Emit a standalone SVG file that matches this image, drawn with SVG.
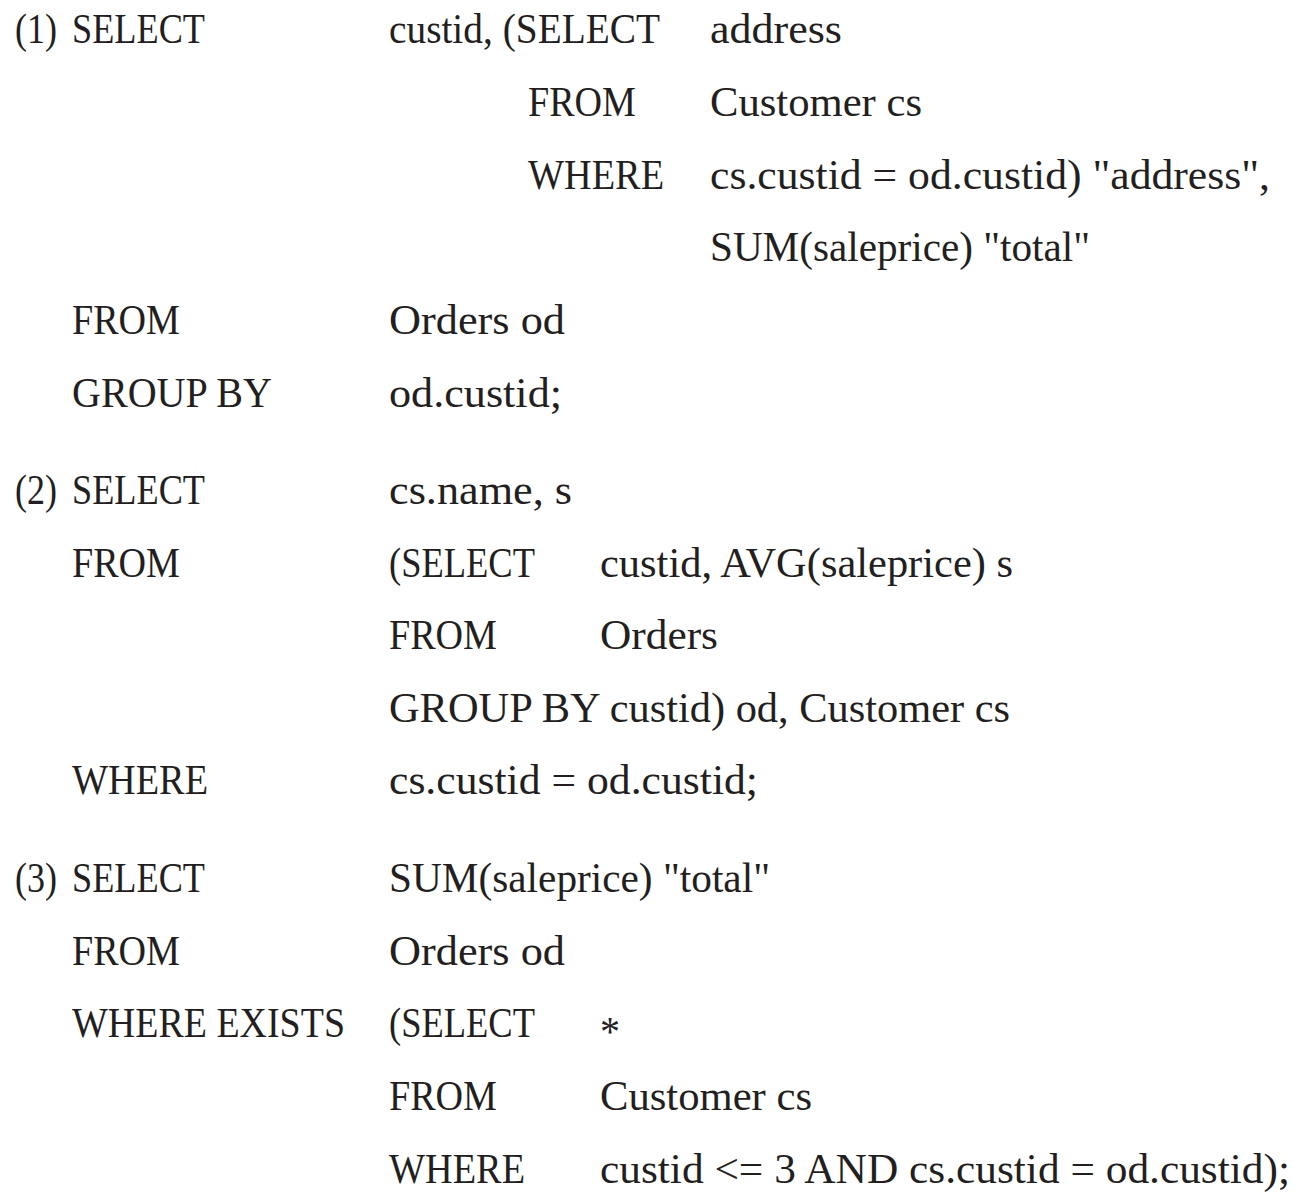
<svg xmlns="http://www.w3.org/2000/svg" width="1304" height="1199" viewBox="0 0 1304 1199">
<style>
text { font-family: "Liberation Serif", "Times New Roman", serif; font-size: 42px; fill: #231f20; }
</style>
<rect width="1304" height="1199" fill="#ffffff"/>
<g id="query1">
<text x="15" y="43" textLength="42" lengthAdjust="spacingAndGlyphs">(1)</text>
<text x="72" y="43" textLength="133" lengthAdjust="spacingAndGlyphs">SELECT</text>
<text x="389" y="43" textLength="271" lengthAdjust="spacingAndGlyphs">custid, (SELECT</text>
<text x="710" y="43" textLength="132" lengthAdjust="spacingAndGlyphs">address</text>
<text x="528" y="116" textLength="108" lengthAdjust="spacingAndGlyphs">FROM</text>
<text x="710" y="116" textLength="212" lengthAdjust="spacingAndGlyphs">Customer cs</text>
<text x="528" y="189" textLength="136" lengthAdjust="spacingAndGlyphs">WHERE</text>
<text x="710" y="189" textLength="560" lengthAdjust="spacingAndGlyphs">cs.custid = od.custid) "address",</text>
<text x="710" y="261" textLength="380" lengthAdjust="spacingAndGlyphs">SUM(saleprice) "total"</text>
<text x="72" y="334" textLength="108" lengthAdjust="spacingAndGlyphs">FROM</text>
<text x="389" y="334" textLength="176" lengthAdjust="spacingAndGlyphs">Orders od</text>
<text x="72" y="407" textLength="200" lengthAdjust="spacingAndGlyphs">GROUP BY</text>
<text x="389" y="407" textLength="173" lengthAdjust="spacingAndGlyphs">od.custid;</text>
</g>
<g id="query2">
<text x="15" y="504" textLength="42" lengthAdjust="spacingAndGlyphs">(2)</text>
<text x="72" y="504" textLength="133" lengthAdjust="spacingAndGlyphs">SELECT</text>
<text x="389" y="504" textLength="183" lengthAdjust="spacingAndGlyphs">cs.name, s</text>
<text x="72" y="577" textLength="108" lengthAdjust="spacingAndGlyphs">FROM</text>
<text x="389" y="577" textLength="146" lengthAdjust="spacingAndGlyphs">(SELECT</text>
<text x="600" y="577" textLength="413" lengthAdjust="spacingAndGlyphs">custid, AVG(saleprice) s</text>
<text x="389" y="649" textLength="108" lengthAdjust="spacingAndGlyphs">FROM</text>
<text x="600" y="649" textLength="118" lengthAdjust="spacingAndGlyphs">Orders</text>
<text x="389" y="722" textLength="621" lengthAdjust="spacingAndGlyphs">GROUP BY custid) od, Customer cs</text>
<text x="72" y="794" textLength="136" lengthAdjust="spacingAndGlyphs">WHERE</text>
<text x="389" y="794" textLength="369" lengthAdjust="spacingAndGlyphs">cs.custid = od.custid;</text>
</g>
<g id="query3">
<text x="15" y="892" textLength="42" lengthAdjust="spacingAndGlyphs">(3)</text>
<text x="72" y="892" textLength="133" lengthAdjust="spacingAndGlyphs">SELECT</text>
<text x="389" y="892" textLength="381" lengthAdjust="spacingAndGlyphs">SUM(saleprice) "total"</text>
<text x="72" y="965" textLength="108" lengthAdjust="spacingAndGlyphs">FROM</text>
<text x="389" y="965" textLength="176" lengthAdjust="spacingAndGlyphs">Orders od</text>
<text x="72" y="1037" textLength="273" lengthAdjust="spacingAndGlyphs">WHERE EXISTS</text>
<text x="389" y="1037" textLength="146" lengthAdjust="spacingAndGlyphs">(SELECT</text>
<text x="600" y="1046" textLength="20" lengthAdjust="spacingAndGlyphs">*</text>
<text x="389" y="1110" textLength="108" lengthAdjust="spacingAndGlyphs">FROM</text>
<text x="600" y="1110" textLength="212" lengthAdjust="spacingAndGlyphs">Customer cs</text>
<text x="389" y="1183" textLength="136" lengthAdjust="spacingAndGlyphs">WHERE</text>
<text x="600" y="1183" textLength="690" lengthAdjust="spacingAndGlyphs">custid &lt;= 3 AND cs.custid = od.custid);</text>
</g>
</svg>
